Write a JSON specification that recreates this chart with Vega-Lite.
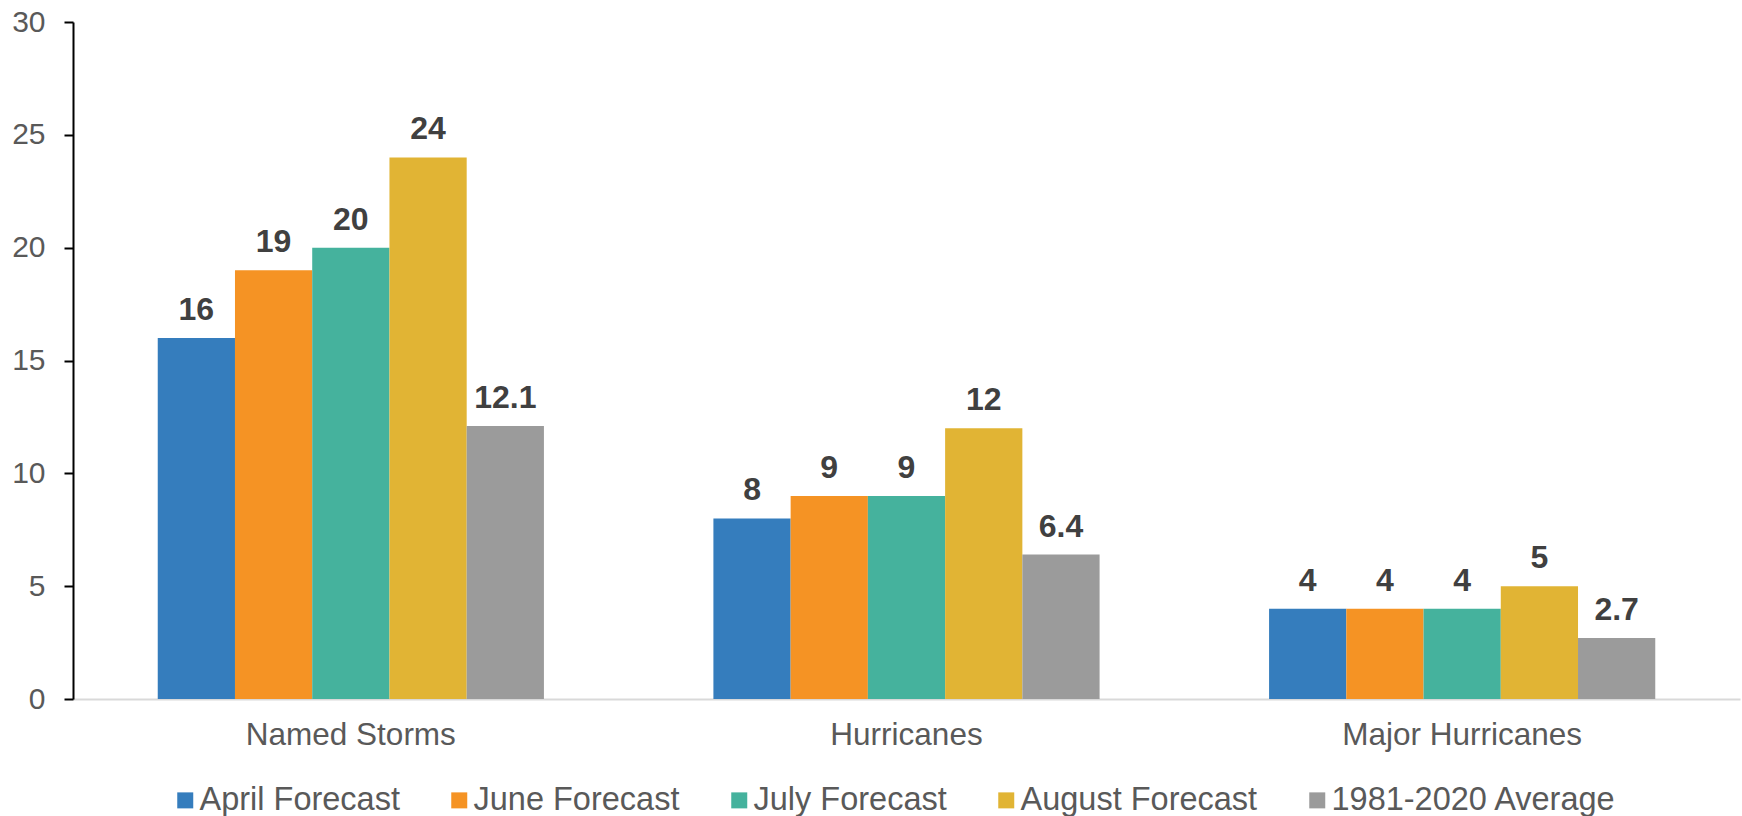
{
  "$schema": "https://vega.github.io/schema/vega-lite/v6.json",
  "autosize": "none",
  "padding": {"left": 73, "top": 22, "right": 2, "bottom": 117},
  "width": 1667,
  "height": 677,
  "config": {
    "view": {"stroke": null},
    "font": "Liberation Sans"
  },
  "data": {
    "values": [
      {"category": "Named Storms", "series": "April Forecast", "value": 16},
      {"category": "Named Storms", "series": "June Forecast", "value": 19},
      {"category": "Named Storms", "series": "July Forecast", "value": 20},
      {"category": "Named Storms", "series": "August Forecast", "value": 24},
      {"category": "Named Storms", "series": "1981-2020 Average", "value": 12.1},
      {"category": "Hurricanes", "series": "April Forecast", "value": 8},
      {"category": "Hurricanes", "series": "June Forecast", "value": 9},
      {"category": "Hurricanes", "series": "July Forecast", "value": 9},
      {"category": "Hurricanes", "series": "August Forecast", "value": 12},
      {"category": "Hurricanes", "series": "1981-2020 Average", "value": 6.4},
      {"category": "Major Hurricanes", "series": "April Forecast", "value": 4},
      {"category": "Major Hurricanes", "series": "June Forecast", "value": 4},
      {"category": "Major Hurricanes", "series": "July Forecast", "value": 4},
      {"category": "Major Hurricanes", "series": "August Forecast", "value": 5},
      {"category": "Major Hurricanes", "series": "1981-2020 Average", "value": 2.7}
    ]
  },
  "encoding": {
    "x": {
      "field": "category",
      "type": "nominal",
      "sort": ["Named Storms", "Hurricanes", "Major Hurricanes"],
      "scale": {"paddingInner": 0.305, "paddingOuter": 0.1525},
      "axis": {
        "title": null,
        "labelAngle": 0,
        "labelFontSize": 31.5,
        "labelColor": "#595959",
        "labelPadding": 20,
        "labelLimit": 1000,
        "ticks": false,
        "domainColor": "#d9d9d9",
        "domainWidth": 2
      }
    },
    "xOffset": {
      "field": "series",
      "type": "nominal",
      "sort": ["April Forecast", "June Forecast", "July Forecast", "August Forecast", "1981-2020 Average"],
      "scale": {"paddingInner": 0, "paddingOuter": 0}
    },
    "y": {
      "field": "value",
      "type": "quantitative",
      "scale": {"domain": [0, 30]},
      "axis": {
        "title": null,
        "values": [0, 5, 10, 15, 20, 25, 30],
        "grid": false,
        "labelFontSize": 30,
        "labelColor": "#595959",
        "labelPadding": 19,
        "tickSize": 9,
        "tickColor": "#000000",
        "tickWidth": 2,
        "domainColor": "#000000",
        "domainWidth": 2
      }
    }
  },
  "layer": [
    {
      "mark": {"type": "bar"},
      "encoding": {
        "color": {
          "field": "series",
          "type": "nominal",
          "scale": {
            "domain": ["April Forecast", "June Forecast", "July Forecast", "August Forecast", "1981-2020 Average"],
            "range": ["#357DBD", "#F59324", "#45B29D", "#E1B434", "#9B9B9B"]
          },
          "legend": {
            "title": null,
            "orient": "none",
            "direction": "horizontal",
            "legendX": 96,
            "legendY": 762,
            "symbolType": "square",
            "symbolSize": 256,
            "symbolStrokeWidth": 0,
            "labelFontSize": 32.5,
            "labelColor": "#595959",
            "labelOffset": -2,
            "labelLimit": 400,
            "columnPadding": 43
          }
        }
      }
    },
    {
      "mark": {"type": "text", "baseline": "alphabetic", "dy": -18, "fontSize": 32, "fontWeight": "bold", "color": "#404040"},
      "encoding": {
        "text": {"field": "value", "type": "quantitative"}
      }
    }
  ]
}
